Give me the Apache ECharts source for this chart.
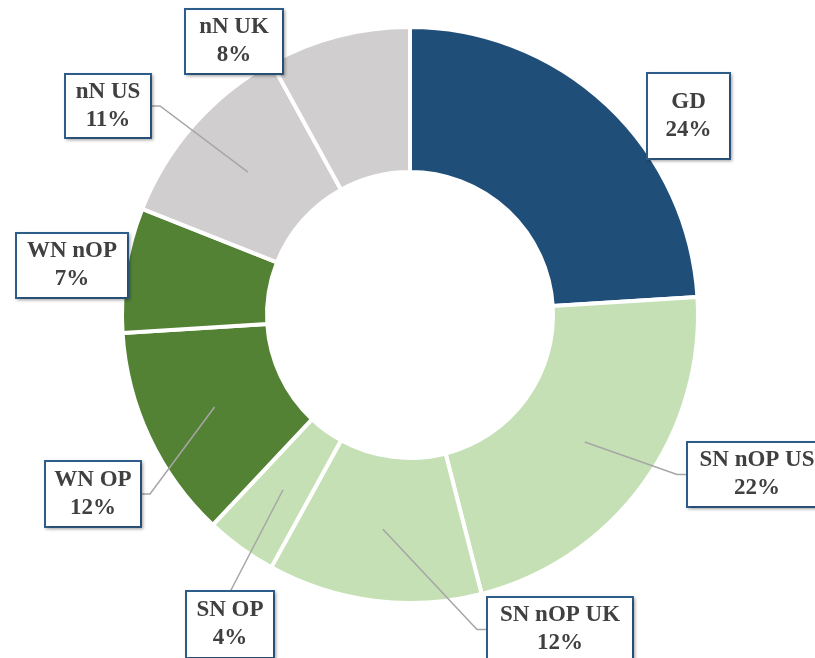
<!DOCTYPE html>
<html>
<head>
<meta charset="utf-8">
<script src="https://cdn.jsdelivr.net/npm/echarts@6/dist/echarts.min.js"></script>
<style>
  html, body { margin: 0; padding: 0; background: #ffffff; }
  #chart { width: 815px; height: 658px; }
</style>
</head>
<body>
<div id="chart"></div>
<script>
// ---- Data ----
const categories = ['GD', 'SN nOP US', 'SN nOP UK', 'SN OP', 'WN OP', 'WN nOP', 'nN US', 'nN UK'];
const shares = [24, 22, 12, 4, 12, 7, 11, 8];
const sliceColors = ['#1f4e79', '#c5e0b4', '#c5e0b4', '#c5e0b4', '#548235', '#548235', '#d0cece', '#d0cece'];

// ---- Layout (label boxes: centre x, centre y, width, height; how the leader line attaches) ----
const labelBoxes = [
  [688.5, 116, 81, 84],
  [757, 474.5, 138, 63],
  [560, 629.5, 144, 63],
  [230, 624.5, 86, 65],
  [93, 494, 94, 64],
  [72, 265.5, 110, 63],
  [108, 106, 84, 62],
  [234, 41.5, 96, 63]
];
const lineAttach = [null, 'left', 'left', 'top', 'right', null, 'right', null];

const CX = 410, CY = 315, R_OUT = 288, R_IN = 143, R_LINE = 216;
const LINE_H = 28;

const total = shares.reduce((a, b) => a + b, 0);
const midAngles = [];
let acc = 0;
shares.forEach(v => { midAngles.push((acc + v / 2) / total * 2 * Math.PI); acc += v; });

const ringData = categories.map((name, i) => ({
  name: name,
  value: shares[i],
  itemStyle: { color: sliceColors[i] }
}));

const labelData = categories.map((name, i) => {
  const box = labelBoxes[i];
  const vpad = Math.max(0, (box[3] - 2 * LINE_H) / 2);
  return {
    name: name,
    value: shares[i],
    label: { width: box[2] - 4, padding: [vpad, 2, vpad, 2] },
    labelLine: { show: lineAttach[i] != null }
  };
});

const chart = echarts.init(document.getElementById('chart'), null, { renderer: 'canvas' });
chart.setOption({
  backgroundColor: '#ffffff',
  animation: false,
  series: [{
    type: 'pie',
    z: 2,
    center: [CX, CY],
    radius: [R_IN, R_OUT],
    startAngle: 90,
    clockwise: true,
    silent: true,
    itemStyle: { borderColor: '#ffffff', borderWidth: 4 },
    label: { show: false },
    labelLine: { show: false },
    data: ringData
  }, {
    type: 'pie',
    z: 5,
    center: [CX, CY],
    radius: [0, R_LINE],
    startAngle: 90,
    clockwise: true,
    avoidLabelOverlap: false,
    minShowLabelAngle: 0,
    silent: true,
    itemStyle: { color: 'rgba(0,0,0,0)', borderWidth: 0 },
    label: {
      show: true,
      position: 'outside',
      formatter: p => p.name + '\n' + p.value + '%',
      fontFamily: '"Liberation Serif", "Times New Roman", serif',
      fontWeight: 'bold',
      fontSize: 23,
      lineHeight: LINE_H,
      color: '#404040',
      align: 'center',
      backgroundColor: '#ffffff',
      borderColor: '#2f5d8a',
      borderWidth: 2,
      shadowColor: 'rgba(0,0,0,0.25)',
      shadowBlur: 3,
      shadowOffsetX: 1.5,
      shadowOffsetY: 1.5
    },
    labelLine: {
      show: true,
      lineStyle: { color: '#a6a6a6', width: 1.5 }
    },
    labelLayout: function (params) {
      const i = params.dataIndex;
      const box = labelBoxes[i];
      const res = { x: box[0], y: box[1], align: 'center', verticalAlign: 'middle' };
      const mode = lineAttach[i];
      if (mode) {
        const a = midAngles[i];
        const start = [CX + R_LINE * Math.sin(a), CY - R_LINE * Math.cos(a)];
        let knee, end;
        if (mode === 'left') {
          end = [box[0] - box[2] / 2, box[1]];
          knee = [end[0] - 11, box[1]];
        } else if (mode === 'right') {
          end = [box[0] + box[2] / 2, box[1]];
          knee = [end[0] + 10, box[1]];
        } else {
          end = [box[0], box[1] - box[3] / 2];
          knee = end.slice();
        }
        res.labelLinePoints = [start, knee, end];
      }
      return res;
    },
    data: labelData
  }]
});
</script>
</body>
</html>
